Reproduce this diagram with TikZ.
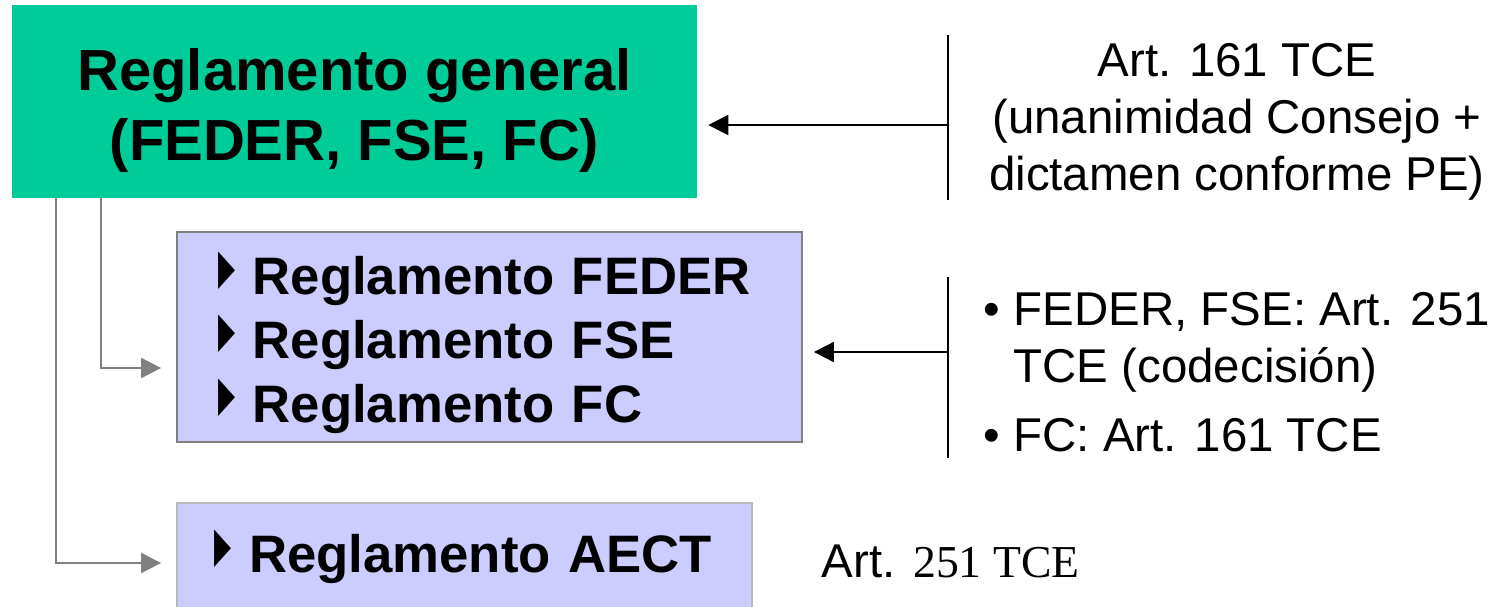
\documentclass[tikz,border=0pt]{standalone}
\usepackage{fontspec}
\setmainfont{Liberation Sans}
\newfontfamily\serifnum{Liberation Serif}
\newfontfamily\symfont{DejaVu Sans}
\usetikzlibrary{arrows.meta,positioning}

\definecolor{verde}{RGB}{0,204,153}
\definecolor{lila}{RGB}{204,204,255}
\definecolor{gris}{RGB}{128,128,128}

% small triangle bullet
\newcommand{\tribul}{\raisebox{6.5pt}{\scalebox{0.45}[1]{\symfont\fontsize{28}{28}\selectfont ▶}}}

\begin{document}
\begin{tikzpicture}[
  x=0.02cm, y=-0.02cm,
  >={Triangle[length=0.4cm,width=0.4cm]},
  every node/.style={inner sep=2pt},
  gbox/.style={fill=verde, minimum width=13.7cm, minimum height=3.86cm, align=center, font=\fontsize{33}{39.5}\selectfont\bfseries},
  bbox/.style={draw=gris, line width=1.1pt, fill=lila, align=left, inner xsep=0.82cm, font=\fontsize{30}{36.4}\selectfont\bfseries},
  txt/.style={font=\fontsize{27}{32.5}\selectfont},
  bar/.style={line width=1.1pt},
  arr/.style={->, line width=1.1pt, shorten >=0.22cm},
  gconn/.style={->, draw=gris, line width=1.1pt, shorten >=0.3cm, >={Triangle[length=0.4cm,width=0.4cm,fill=gris]}}
]
\useasboundingbox (0,0) rectangle (1495,606);

% boxes
\node[gbox] (gen) at (354.5,101.5) {\rule{0pt}{1.2cm}Reglamento general\\(FEDER, FSE, FC)};
\node[bbox, text width=10.86cm, minimum height=4.2cm] (esp) at (489.5,337)
  {\rule{0pt}{1.08cm}\tribul\ Reglamento FEDER\\\tribul\ Reglamento FSE\\\tribul\ Reglamento FC};
\node[bbox, draw=gris!55, inner xsep=0.75cm, text width=10cm, minimum height=2.16cm] (aect) at (464.5,557)
  {\tribul\ Reglamento AECT};

% legal bases
\node[txt, align=center] (base1) at (1237,122) {Art. 161 TCE\\(unanimidad Consejo +\\dictamen conforme PE)};
\node[txt, align=left, anchor=west] (base2) at (980,372)
  {• FEDER, FSE: Art. 251\\\hphantom{• }TCE (codecisión)\\[0.24cm]• FC: Art. 161 TCE};
\node[txt, anchor=base west] (base3) at (818,577) {Art. {\serifnum\fontsize{26}{30}\selectfont 251 TCE}};

% bars and arrows
\coordinate (b1t) at (948,35);
\coordinate (b1b) at (948,200);
\coordinate (b1m) at (948,125);
\draw[bar] (b1t) -- (b1b);
\draw[arr] (b1m) -- (gen.east |- b1m);

\coordinate (b2t) at (948,277);
\coordinate (b2b) at (948,458);
\coordinate (b2m) at (948,352);
\draw[bar] (b2t) -- (b2b);
\draw[arr] (b2m) -- (esp.east |- b2m);

% gray connectors
\coordinate (c1) at ([xshift=1.78cm]gen.south west);
\coordinate (c2) at ([xshift=0.88cm]gen.south west);
\draw[gconn] (c1) |- ([yshift=-0.62cm]esp.west);
\draw[gconn] (c2) |- ([yshift=-0.12cm]aect.west);

\end{tikzpicture}
\end{document}
